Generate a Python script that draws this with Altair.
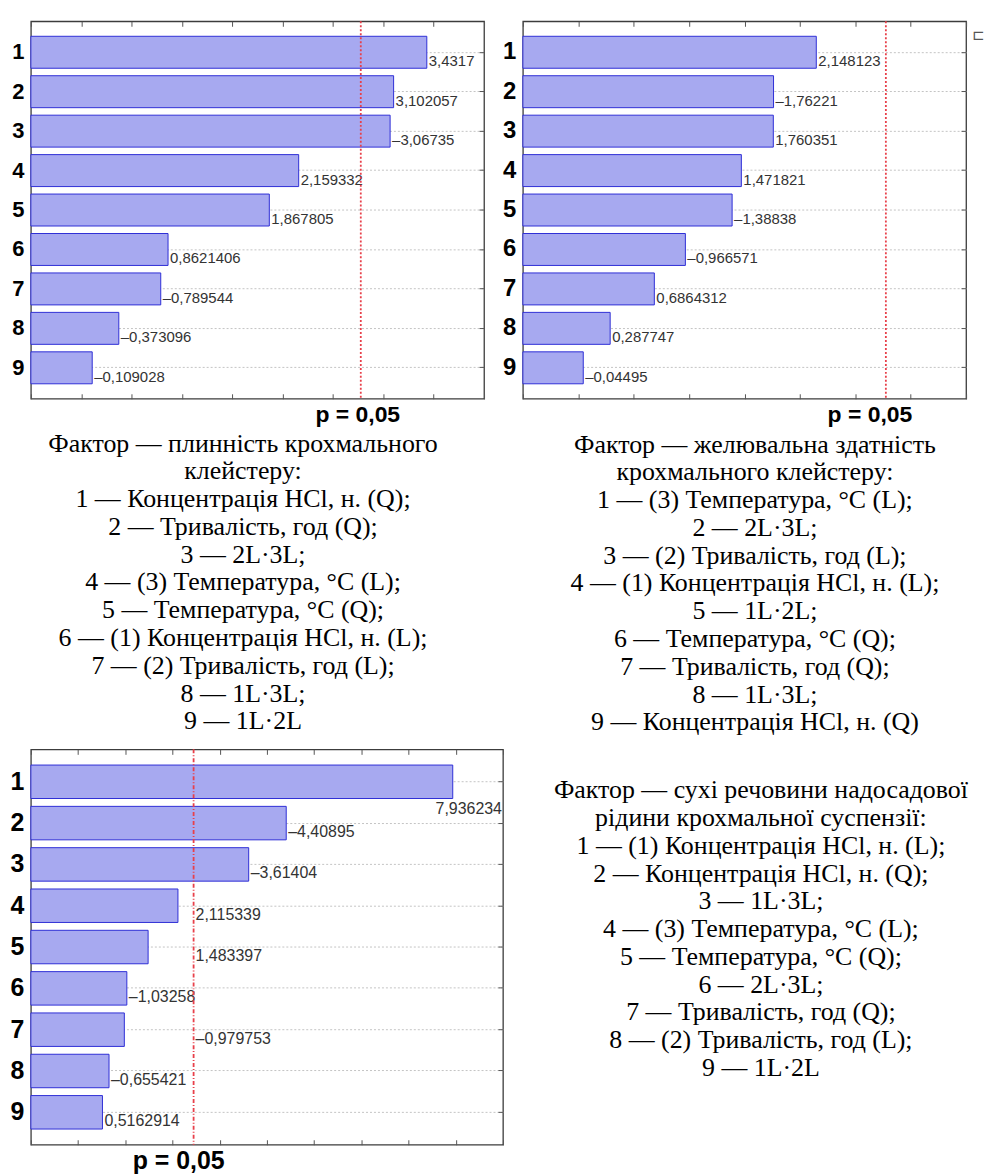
import altair as alt
import pandas as pd

# ---------------- data ----------------
ranks = ["1", "2", "3", "4", "5", "6", "7", "8", "9"]

effects_fluidity = [3.4317, 3.102057, -3.06735, 2.159332, 1.867805,
                    0.8621406, -0.789544, -0.373096, -0.109028]
effects_gelling = [2.148123, -1.76221, 1.760351, 1.471821, -1.38838,
                   -0.966571, 0.6864312, 0.287747, -0.04495]
effects_solids = [7.936234, -4.40895, -3.61404, 2.115339, 1.483397,
                  -1.03258, -0.979753, -0.655421, 0.5162914]

p_critical = [2.776, 2.776, 2.447]
x_domains = [[-0.5, 4.0], [-0.5, 3.5], [-1.0, 9.0]]
major_ticks = [
    [-0.5, 0, 0.5, 1, 1.5, 2, 2.5, 3, 3.5, 4],
    [-0.5, 0, 0.5, 1, 1.5, 2, 2.5, 3, 3.5],
    [-1, 0, 1, 2, 3, 4, 5, 6, 7, 8, 9],
]
p_label = "p = 0,05"

text_fluidity = [
    "Фактор — плинність крохмального",
    "клейстеру:",
    "1 — Концентрація HCl, н. (Q);",
    "2 — Тривалість, год (Q);",
    "3 — 2L·3L;",
    "4 — (3) Температура, °C (L);",
    "5 — Температура, °C (Q);",
    "6 — (1) Концентрація HCl, н. (L);",
    "7 — (2) Тривалість, год (L);",
    "8 — 1L·3L;",
    "9 — 1L·2L",
]
text_gelling = [
    "Фактор — желювальна здатність",
    "крохмального клейстеру:",
    "1 — (3) Температура, °C (L);",
    "2 — 2L·3L;",
    "3 — (2) Тривалість, год (L);",
    "4 — (1) Концентрація HCl, н. (L);",
    "5 — 1L·2L;",
    "6 — Температура, °C (Q);",
    "7 — Тривалість, год (Q);",
    "8 — 1L·3L;",
    "9 — Концентрація HCl, н. (Q)",
]
text_solids = [
    "Фактор — сухі речовини надосадової",
    "рідини крохмальної суспензії:",
    "1 — (1) Концентрація HCl, н. (L);",
    "2 — Концентрація HCl, н. (Q);",
    "3 — 1L·3L;",
    "4 — (3) Температура, °C (L);",
    "5 — Температура, °C (Q);",
    "6 — 2L·3L;",
    "7 — Тривалість, год (Q);",
    "8 — (2) Тривалість, год (L);",
    "9 — 1L·2L",
]

# ---------------- style ----------------
BAR_FILL = "#a7a9f0"
BAR_STROKE = "#2e2ed6"
TICK_COLOR = "#555555"
GRID_COLOR = "#c4c4c4"
P_COLOR = "#e8404a"
SANS = "Liberation Sans"
SERIF = "Liberation Serif"


def fmt(v):
    return repr(v).replace(".", ",").replace("-", "–")


def panel(values, dom, pcrit, ticks, W, H, cat_fs, num_fs, p_fs, p_dx,
          p_dash, extra=()):
    ppu = W / (dom[1] - dom[0])
    ppx = (pcrit - dom[0]) * ppu
    rows = []
    for r, v in zip(ranks, values):
        a = abs(v)
        lab = fmt(v)
        wpx = num_fs * sum(0.278 if ch == "," else 0.556 for ch in lab)
        end = (a - dom[0]) * ppu + 1 + wpx
        if end > W:
            mode, anchor = "under", dom[1]
        elif a < pcrit and end > ppx + 3:
            mode, anchor = "after", pcrit
        else:
            mode, anchor = "bar", a
        rows.append(dict(rank=r, effect=v, abs_effect=a, label=lab,
                         mode=mode, anchor=anchor))
    df = pd.DataFrame(rows)
    pdf = pd.DataFrame({"p": [pcrit], "label": [p_label]})

    xscale = alt.Scale(domain=dom, nice=False, zero=False)
    yscale = alt.Scale(paddingInner=0.19, paddingOuter=0.38)

    def tick_axis(orient, off, vals=None):
        kw = dict(orient=orient, offset=off, labels=False, domain=False,
                  grid=False, ticks=True, tickSize=5, tickColor=TICK_COLOR,
                  tickWidth=1, title=None)
        if vals is not None:
            kw["values"] = vals
        return alt.Axis(**kw)

    bars = alt.Chart(df).mark_bar(
        fill=BAR_FILL, stroke=BAR_STROKE, strokeWidth=1
    ).encode(
        x=alt.X("abs_effect:Q", scale=xscale, axis=tick_axis("top", -H, ticks)),
        x2=alt.X2Datum(dom[0]),
        y=alt.Y("rank:N", sort=ranks, scale=yscale,
                axis=alt.Axis(orient="left", title=None, labelFont=SANS,
                              labelFontSize=cat_fs, labelFontWeight="bold",
                              labelColor="black", labelPadding=7, labelAngle=0,
                              ticks=False, domain=False, grid=True,
                              gridColor=GRID_COLOR, gridDash=[2, 2],
                              gridWidth=1)),
    )

    under = alt.Chart(df).transform_filter("datum.mode == 'under'").mark_text(
        align="right", baseline="middle", dx=-1, dy=27,
        font=SANS, fontSize=num_fs, color="#333333"
    ).encode(
        x=alt.X("anchor:Q", scale=xscale, axis=None),
        y=alt.Y("rank:N", sort=ranks, axis=tick_axis("left", -W)),
        text="label:N",
    )

    labels = alt.Chart(df).transform_filter("datum.mode != 'under'").mark_text(
        align="left", baseline="middle", dx=2, dy=9,
        font=SANS, fontSize=num_fs, color="#333333"
    ).encode(
        x=alt.X("anchor:Q", scale=xscale, axis=tick_axis("bottom", -H, ticks)),
        y=alt.Y("rank:N", sort=ranks, axis=tick_axis("right", -W)),
        text="label:N",
    )

    rule = alt.Chart(pdf).mark_rule(
        color=P_COLOR, strokeDash=p_dash, strokeWidth=1.8
    ).encode(x=alt.X("p:Q", scale=xscale, axis=None))

    ptext = alt.Chart(pdf).mark_text(
        font=SANS, fontWeight="bold", fontSize=p_fs, dx=p_dx,
        align="center", baseline="middle", color="black"
    ).encode(
        x=alt.X("p:Q", scale=xscale, axis=None),
        y=alt.value(H + 16),
        text="label:N",
    )

    layers = [bars, under, labels, rule, ptext] + list(extra)
    return alt.layer(*layers).resolve_axis(
        x="independent", y="independent"
    ).properties(width=W, height=H)


no_frame = alt.ViewBackground(stroke="transparent")


def text_block(lines, x, y0, W, H, fs=26, lh=27.9):
    d = pd.DataFrame({"t": ["\n".join(lines)]})
    return alt.Chart(d).mark_text(
        lineBreak="\n", lineHeight=lh, align="center", baseline="alphabetic",
        font=SERIF, fontSize=fs, color="black"
    ).encode(x=alt.value(x), y=alt.value(y0), text="t:N").properties(
        width=W, height=H, view=no_frame)


glyph = alt.Chart(pd.DataFrame({"g": ["⊏"]})).mark_text(
    font="DejaVu Sans", fontSize=15, color="#555555", align="left",
    baseline="middle"
).encode(x=alt.value(451), y=alt.value(14), text="g:N")

p1 = panel(effects_fluidity, x_domains[0], p_critical[0], major_ticks[0],
           455, 379, 22, 15, 23, -3, [2, 2])
p2 = panel(effects_gelling, x_domains[1], p_critical[1], major_ticks[1],
           445, 379, 24, 15, 23, -16, [2, 2], extra=[glyph])
p3 = panel(effects_solids, x_domains[2], p_critical[2], major_ticks[2],
           474, 397, 25, 16, 25, -15, [4, 2, 1, 2])

t1 = text_block(text_fluidity, 213, 53, 455, 352)
t2 = text_block(text_gelling, 233, 54, 440, 352)
t3 = text_block(text_solids, 239, 49, 430, 397)

chart = alt.concat(
    p1, p2, t1, t2, p3, t3,
    columns=2, bounds="flush", spacing={"row": 0, "column": 20}
).properties(
    padding={"left": 9, "top": 17, "right": 0, "bottom": 0}
).configure_view(stroke="#3c3c3c", strokeWidth=1.3)

chart.save("out.html", embed_options={"renderer": "svg", "actions": False})
